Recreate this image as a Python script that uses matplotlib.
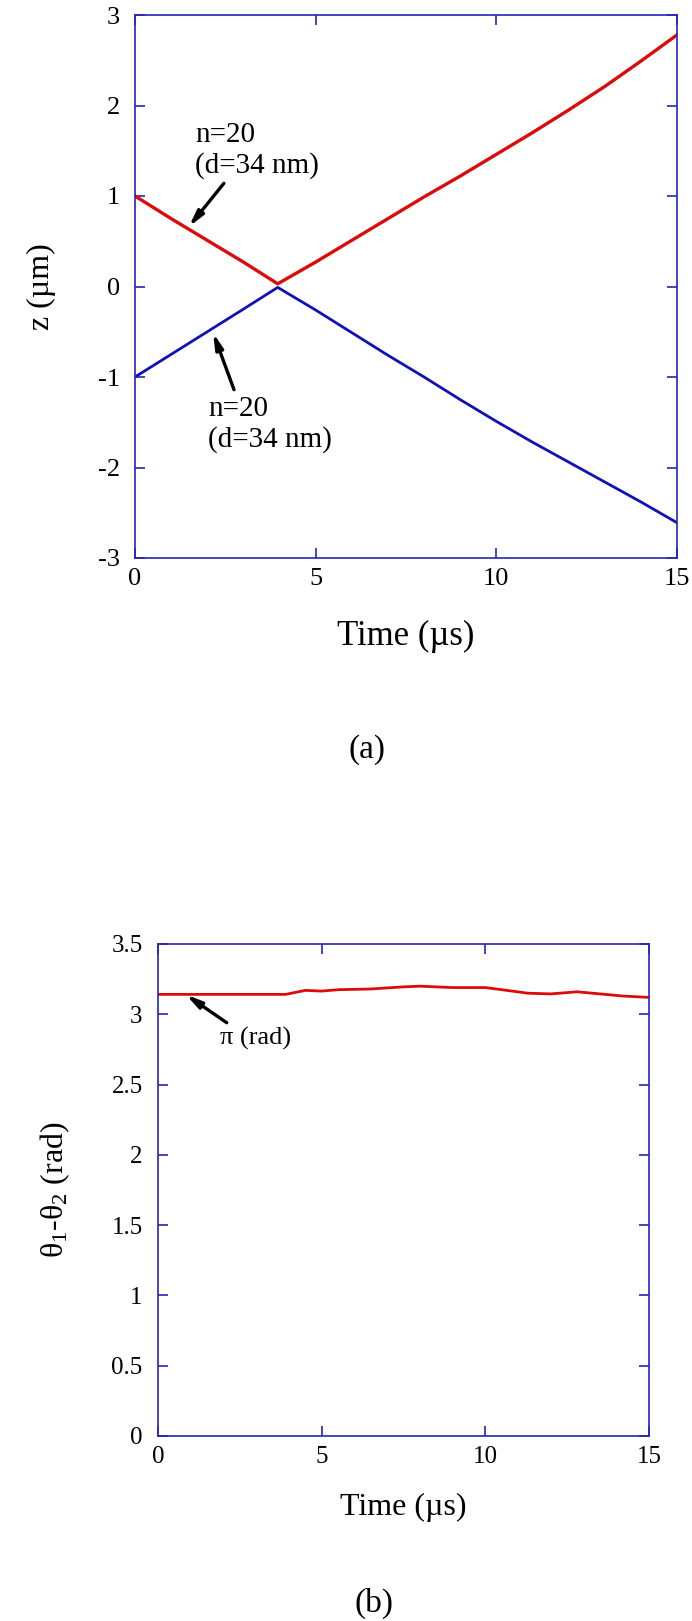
import numpy as np
import matplotlib
matplotlib.use("Agg")
import matplotlib.pyplot as plt

plt.rcParams['font.family'] = ['Liberation Serif', 'DejaVu Serif']
plt.rcParams['mathtext.fontset'] = 'custom'
plt.rcParams['mathtext.rm'] = 'Liberation Serif'
plt.rcParams['mathtext.it'] = 'Liberation Serif:italic'
plt.rcParams['axes.unicode_minus'] = False

# (a) z position vs time
t_a = [0, 1, 2, 3, 3.95, 5, 6, 7, 8, 9, 10, 11, 12, 13, 14, 15]
z_red = [1.0, 0.75, 0.51, 0.27, 0.03, 0.27, 0.51, 0.75, 0.99, 1.22, 1.46, 1.70, 1.95, 2.21, 2.49, 2.78]
z_blue = [-1.0, -0.75, -0.50, -0.25, -0.01, -0.26, -0.51, -0.76, -1.00, -1.25, -1.49, -1.72, -1.94, -2.16, -2.38, -2.61]

# (b) phase difference vs time
t_b = [0, 1, 2, 3, 3.9, 4.5, 5, 5.5, 6.5, 7.5, 8, 9, 10, 10.5, 11.3, 12, 12.8, 13.5, 14.2, 15]
phase = [3.1416, 3.1416, 3.1416, 3.1416, 3.1416, 3.17, 3.165, 3.175, 3.18, 3.195, 3.20, 3.19,
         3.19, 3.175, 3.15, 3.145, 3.16, 3.145, 3.13, 3.12]

x_ticks = [0, 5, 10, 15]
za_ticks = [-3, -2, -1, 0, 1, 2, 3]
pb_ticks = [0, 0.5, 1, 1.5, 2, 2.5, 3, 3.5]
pb_labels = ['0', '0.5', '1', '1.5', '2', '2.5', '3', '3.5']

spine_col = '#2626b4'
red = '#dc0a0a'
blue = '#1010b8'

fig = plt.figure(figsize=(6.92, 16.21), dpi=100)
ax1 = fig.add_axes([135/692, 1-558/1621, 542/692, 543/1621])
ax2 = fig.add_axes([158/692, 1-1436/1621, 491/692, 492/1621])

for ax in (ax1, ax2):
    for s in ax.spines.values():
        s.set_color(spine_col)
        s.set_linewidth(1.2)
    ax.tick_params(direction='in', top=True, right=True, color=spine_col,
                   length=7, width=1.2, labelsize=19)
    ax.tick_params(axis='y', pad=11)
    ax.tick_params(axis='x', pad=7)

# top panel
ax1.plot(t_a, z_red, color=red, lw=2.4)
ax1.plot(t_a, z_blue, color=blue, lw=2.0)
ax1.set_xlim(0, 15)
ax1.set_ylim(-3, 3)
ax1.set_xticks(x_ticks)
ax1.set_yticks(za_ticks)
ax1.set_xlabel('Time (\u00b5s)', fontsize=25)
ax1.xaxis.set_label_coords(0.5, -0.145)
ax1.xaxis.label.set_va('center')
ax1.set_ylabel('z (\u00b5m)', fontsize=23)
ax1.yaxis.set_label_coords(-0.173, 0.5)
ax1.yaxis.label.set_va('center')

arrow = dict(arrowstyle='-|>,head_width=0.22,head_length=0.9', color='black', lw=2.4,
             shrinkA=0, shrinkB=0)
ax1.annotate('', xy=(1.49, 0.66), xytext=(2.46, 1.14), arrowprops=arrow)
ax1.text(1.66, 1.5, 'n=20\n(d=34 nm)', fontsize=21, ha='left', va='center', linespacing=1.2)
ax1.annotate('', xy=(2.16, -0.51), xytext=(2.74, -1.14), arrowprops=arrow)
ax1.text(2.02, -1.53, 'n=20\n(d=34 nm)', fontsize=21, ha='left', va='center', linespacing=1.2)

# bottom panel
ax2.plot(t_b, phase, color=red, lw=2.0)
ax2.set_xlim(0, 15)
ax2.set_ylim(0, 3.5)
ax2.set_xticks(x_ticks)
ax2.set_yticks(pb_ticks)
ax2.set_yticklabels(pb_labels)
ax2.tick_params(labelsize=18)
ax2.set_xlabel('Time (\u00b5s)', fontsize=23)
ax2.xaxis.set_label_coords(0.5, -0.146)
ax2.xaxis.label.set_va('center')
ax2.set_ylabel('\u03b8$_\\mathregular{1}$-\u03b8$_\\mathregular{2}$ (rad)', fontsize=23)
ax2.yaxis.set_label_coords(-0.21, 0.5)
ax2.yaxis.label.set_va('center')
ax2.annotate('', xy=(0.85, 3.14), xytext=(2.1, 2.94), arrowprops=arrow)
ax2.text(1.9, 2.83, '\u03c0 (rad)', fontsize=19, ha='left', va='center')

fig.text(0.53, 1-750/1621, '(a)', fontsize=24, ha='center', va='center')
fig.text(0.54, 1-1603/1621, '(b)', fontsize=24, ha='center', va='center')

fig.savefig('out.png', dpi=100)
